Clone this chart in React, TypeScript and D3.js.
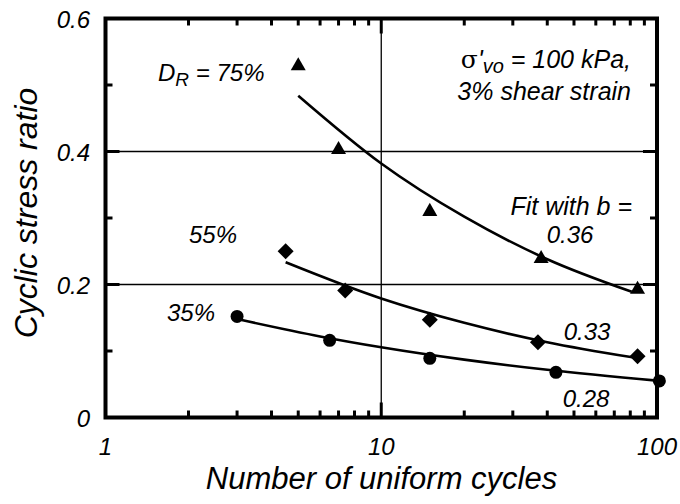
import React from "react";
import * as d3 from "d3";

// Data points
const n75 = [5, 7, 15, 38, 85];
const csr75 = [0.53, 0.404, 0.311, 0.24, 0.194];
const n55 = [4.5, 7.4, 15, 37, 85];
const csr55 = [0.25, 0.191, 0.147, 0.113, 0.092];
const n35 = [3, 6.5, 15, 43, 102];
const csr35 = [0.152, 0.116, 0.089, 0.068, 0.055];

// Fit curves
const fit75N = [5, 10, 20, 40, 81];
const fit75 = [0.484, 0.382, 0.302, 0.238, 0.189];
const fit55N = [4.5, 10, 20, 40, 81.5];
const fit55 = [0.2335, 0.179, 0.1424, 0.1133, 0.0905];
const fit35N = [3, 6, 10, 20, 40, 100];
const fit35 = [0.148, 0.1219, 0.1056, 0.087, 0.0717, 0.0554];

const xTickLabels = [1, 10, 100];
const yTickLabels = [0, 0.2, 0.4, 0.6];
const yGrid = [0.2, 0.4];
const xGrid = [10];

const W = 680;
const H = 504;
const FONT = "Arial, 'Liberation Sans', Helvetica, sans-serif";

export default function App() {
  const x = d3.scaleLog().domain([1, 100]).range([105.5, 657]);
  const y = d3.scaleLinear().domain([0, 0.6]).range([417.5, 18.5]);

  const line = d3
    .line<[number, number]>()
    .x((d) => x(d[0]))
    .y((d) => y(d[1]))
    .curve(d3.curveMonotoneX);

  const zip = (a: number[], b: number[]) => a.map((v, i) => [v, b[i]] as [number, number]);

  const x0 = x(1), x1 = x(100), y0 = y(0), y1 = y(0.6);

  const minorX: number[] = [];
  for (let dec = 1; dec < 100; dec *= 10) for (let k = 2; k <= 9; k++) minorX.push(k * dec);
  const yTicksAll = d3.range(1, 6).map((i) => i / 10);

  const tri = (cx: number, cy: number, s = 15) => {
    const h = s * 0.87;
    return `M${cx},${cy - h * 0.6}L${cx + s / 2},${cy + h * 0.4}L${cx - s / 2},${cy + h * 0.4}Z`;
  };
  const dia = (cx: number, cy: number, s = 8) =>
    `M${cx},${cy - s}L${cx + s},${cy}L${cx},${cy + s}L${cx - s},${cy}Z`;

  const lbl = { fontFamily: FONT, fontStyle: "italic" as const, fill: "#000" };

  return (
    <svg width={W} height={H} style={{ position: "absolute", left: 0, top: 0, background: "#fff" }}>
      {/* grid */}
      {yGrid.map((v) => (
        <line key={"gy" + v} x1={x0} x2={x1} y1={y(v)} y2={y(v)} stroke="#000" strokeWidth={1.3} />
      ))}
      {xGrid.map((v) => (
        <line key={"gx" + v} x1={x(v)} x2={x(v)} y1={y0} y2={y1} stroke="#000" strokeWidth={1.3} />
      ))}
      {/* ticks */}
      {minorX.map((v) => (
        <g key={"tx" + v}>
          <line x1={x(v)} x2={x(v)} y1={y0} y2={y0 - 7} stroke="#000" strokeWidth={3} />
          <line x1={x(v)} x2={x(v)} y1={y1} y2={y1 + 7} stroke="#000" strokeWidth={3} />
        </g>
      ))}
      {xGrid.map((v) => (
        <g key={"txm" + v}>
          <line x1={x(v)} x2={x(v)} y1={y0} y2={y0 - 15} stroke="#000" strokeWidth={3} />
          <line x1={x(v)} x2={x(v)} y1={y1} y2={y1 + 15} stroke="#000" strokeWidth={3} />
        </g>
      ))}
      {yTicksAll.map((v) => {
        const len = Math.abs(v * 10 - Math.round(v * 10 / 2) * 2) < 1e-6 ? 14 : 7;
        return (
          <g key={"ty" + v}>
            <line x1={x0} x2={x0 + len} y1={y(v)} y2={y(v)} stroke="#000" strokeWidth={3} />
            <line x1={x1} x2={x1 - len} y1={y(v)} y2={y(v)} stroke="#000" strokeWidth={3} />
          </g>
        );
      })}
      {/* frame */}
      <rect x={x0} y={y1} width={x1 - x0} height={y0 - y1} fill="none" stroke="#000" strokeWidth={4} />

      {/* fit curves */}
      <path d={line(zip(fit75N, fit75)) || ""} fill="none" stroke="#000" strokeWidth={2.6} />
      <path d={line(zip(fit55N, fit55)) || ""} fill="none" stroke="#000" strokeWidth={2.6} />
      <path d={line(zip(fit35N, fit35)) || ""} fill="none" stroke="#000" strokeWidth={2.6} />

      {/* markers */}
      {n75.map((n, i) => (
        <path key={"t" + i} d={tri(x(n), y(csr75[i]))} fill="#000" />
      ))}
      {n55.map((n, i) => (
        <path key={"d" + i} d={dia(x(n), y(csr55[i]))} fill="#000" />
      ))}
      {n35.map((n, i) => (
        <circle key={"c" + i} cx={x(n)} cy={y(csr35[i])} r={6.5} fill="#000" />
      ))}

      {/* tick labels */}
      {yTickLabels.map((v) => (
        <text key={"yl" + v} x={90} y={y(v) + 9} textAnchor="end" fontSize={24} {...lbl}>
          {String(v)}
        </text>
      ))}
      {xTickLabels.map((v) => (
        <text key={"xl" + v} x={x(v)} y={455} textAnchor="middle" fontSize={24} {...lbl}>
          {String(v)}
        </text>
      ))}

      {/* axis titles */}
      <text x={381.5} y={489} textAnchor="middle" fontSize={31} {...lbl}>
        Number of uniform cycles
      </text>
      <text
        transform={`translate(37, 213) rotate(-90)`}
        textAnchor="middle"
        fontSize={32}
        {...lbl}
      >
        Cyclic stress ratio
      </text>

      {/* annotations */}
      <text x={158} y={81} fontSize={24} {...lbl}>
        D<tspan fontSize={19} dy={5}>R</tspan>
        <tspan dy={-5}> = 75%</tspan>
      </text>
      <text x={189} y={243} fontSize={24} {...lbl}>55%</text>
      <text x={167} y={321} fontSize={24} {...lbl}>35%</text>
      <text x={631} y={68} textAnchor="end" fontSize={25} {...lbl}>
        <tspan fontFamily="'DejaVu Serif', 'Times New Roman', serif" fontStyle="normal">σ</tspan>
        <tspan>'</tspan>
        <tspan fontSize={20} dy={5}>vo</tspan>
        <tspan dy={-5}> = 100 kPa,</tspan>
      </text>
      <text x={631} y={100} textAnchor="end" fontSize={25} {...lbl}>
        3% shear strain
      </text>
      <text x={632} y={215} textAnchor="end" fontSize={25} {...lbl}>
        Fit with b =
      </text>
      <text x={570} y={243} textAnchor="middle" fontSize={24} {...lbl}>0.36</text>
      <text x={587} y={340} textAnchor="middle" fontSize={24} {...lbl}>0.33</text>
      <text x={586} y={407} textAnchor="middle" fontSize={24} {...lbl}>0.28</text>
    </svg>
  );
}
